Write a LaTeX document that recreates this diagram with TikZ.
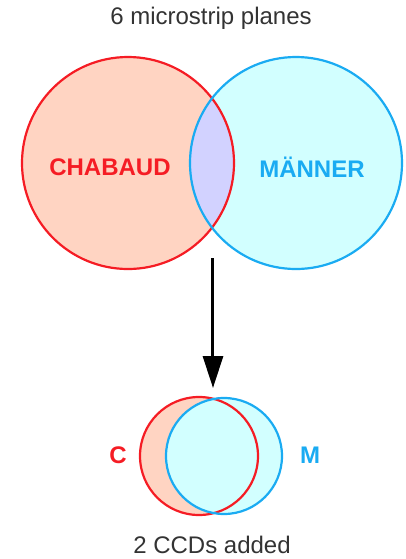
\documentclass[tikz,border=0pt]{standalone}
\usepackage{fontspec}
\setmainfont{Liberation Sans}
\usepackage{xcolor}
\usetikzlibrary{arrows.meta,positioning}

\definecolor{chred}{HTML}{F51C24}
\definecolor{chfill}{HTML}{FFD4C2}
\definecolor{mablue}{HTML}{1AABF2}
\definecolor{mafill}{HTML}{D2FFFF}
\definecolor{bothfill}{HTML}{D2D2FF}

\begin{document}
\begin{tikzpicture}[x=0.5pt, y=-0.5pt,
  every node/.style={font=\fontsize{12}{14}\selectfont, inner sep=0pt},
  caption/.style={text=black!80},
  redlabel/.style={text=chred, font=\fontsize{12}{14}\selectfont\bfseries},
  bluelabel/.style={text=mablue, font=\fontsize{12}{14}\selectfont\bfseries},
  redring/.style={draw=chred, line width=1.1pt},
  bluering/.style={draw=mablue, line width=1.1pt}]
\useasboundingbox (0,0) rectangle (406,559);

% Title
\node[caption] (top) at (211,18) {6 microstrip planes};

% Big circles
\fill[chfill] (128,163) circle (106);
\fill[mafill] (296,163) circle (106);
\begin{scope}
  \clip (128,163) circle (106);
  \fill[bothfill] (296,163) circle (106);
\end{scope}
\draw[redring] (128,163) circle (106);
\draw[bluering] (296,163) circle (106);
\node[redlabel] (chabaud) at (110,167) {CHABAUD};
\node[bluelabel] (manner) at (312,167) {MÄNNER};

% Arrow
\coordinate (from) at (213,258);
\coordinate (to) at (213,388);
\draw[-{Triangle[length=16pt, width=10pt]}, line width=1.5pt] (from) -- (to);

% Small circles
\fill[chfill] (199,456) circle (59);
\fill[mafill] (224,456) circle (58);
\draw[redring] (199,456) circle (59);
\draw[bluering] (224,456) circle (58);
\node[redlabel] (c) at (118,455) {C};
\node[bluelabel] (m) at (310,455) {M};

% Bottom text
\node[caption] (bottom) at (212,545) {2 CCDs added};
\end{tikzpicture}
\end{document}
